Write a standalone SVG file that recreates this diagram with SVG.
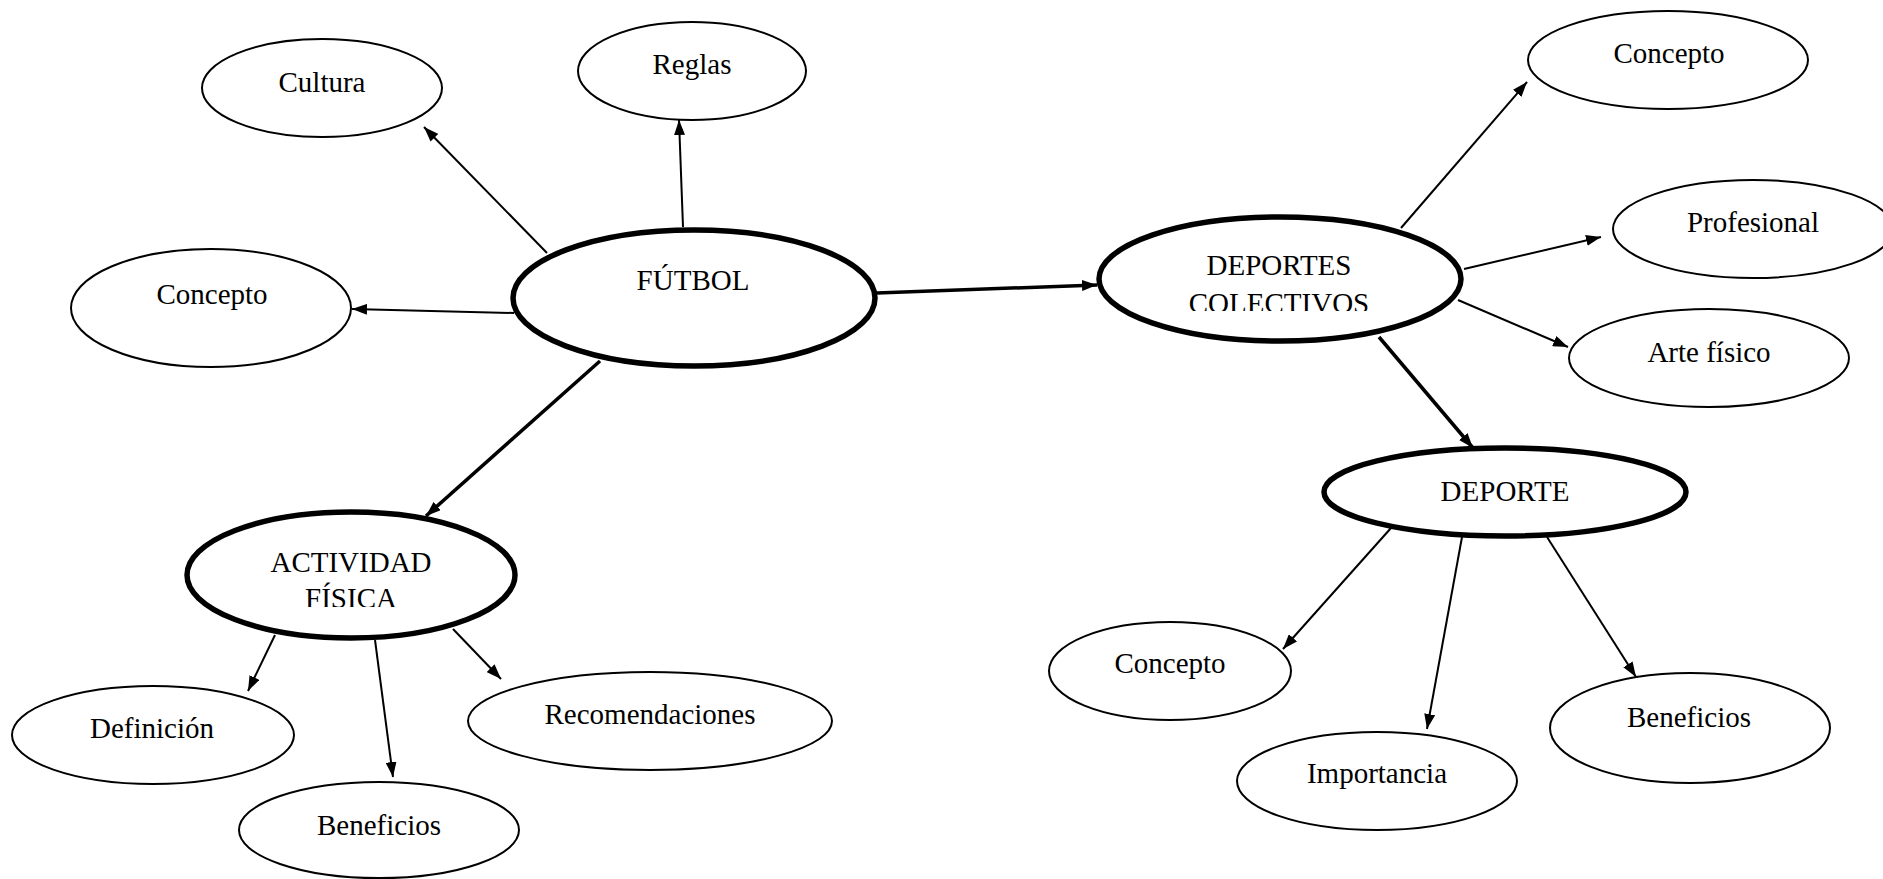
<svg xmlns="http://www.w3.org/2000/svg" width="1883" height="879" viewBox="0 0 1883 879">
<style>
.n{fill:#fff;stroke:#000;stroke-width:2}
.k{fill:#fff;stroke:#000;stroke-width:5.5}
.t{font-family:"Liberation Serif","Times New Roman",serif;font-size:29px;text-anchor:middle;fill:#000}
.c{stroke:#000;stroke-width:2;fill:none;marker-end:url(#ah)}
.ck{stroke:#000;stroke-width:3.5;fill:none;marker-end:url(#ah)}
</style>
<defs>
<marker id="ah" markerUnits="userSpaceOnUse" markerWidth="15" markerHeight="11" refX="15" refY="5.5" orient="auto">
<path d="M0,0 L15,5.5 L0,11 z" fill="#000"/>
</marker>
<clipPath id="clipDC"><rect x="1100" y="220" width="360" height="91"/></clipPath>
<clipPath id="clipAF"><rect x="190" y="515" width="325" height="92"/></clipPath>
</defs>
<rect width="1883" height="879" fill="#fff"/>
<g id="connectors">
<line class="c" x1="547" y1="253" x2="424" y2="127"/>
<line class="c" x1="683" y1="227" x2="679" y2="120"/>
<line class="c" x1="514" y1="313" x2="352" y2="309"/>
<line class="ck" x1="877" y1="293" x2="1097" y2="285"/>
<line class="ck" x1="600" y1="361" x2="426" y2="516"/>
<line class="c" x1="1401" y1="228" x2="1527" y2="82"/>
<line class="c" x1="1464" y1="269" x2="1601" y2="237"/>
<line class="c" x1="1458" y1="300" x2="1568" y2="347"/>
<line class="ck" x1="1379" y1="337" x2="1473" y2="448"/>
<line class="c" x1="1391" y1="528" x2="1283" y2="649"/>
<line class="c" x1="1462" y1="537" x2="1427" y2="729"/>
<line class="c" x1="1547" y1="537" x2="1636" y2="677"/>
<line class="c" x1="275" y1="635" x2="248" y2="691"/>
<line class="c" x1="375" y1="640" x2="393" y2="777"/>
<line class="c" x1="453" y1="629" x2="501" y2="679"/>
</g>
<g id="cultura"><ellipse class="n" cx="322" cy="88" rx="120" ry="49"/><text class="t" x="322" y="92">Cultura</text></g>
<g id="reglas"><ellipse class="n" cx="692" cy="71" rx="114" ry="49"/><text class="t" x="692" y="74">Reglas</text></g>
<g id="futbol"><ellipse class="k" cx="694" cy="298" rx="181" ry="68"/><text class="t" x="693" y="290">FÚTBOL</text></g>
<g id="concepto1"><ellipse class="n" cx="211" cy="308" rx="140" ry="59"/><text class="t" x="212" y="304">Concepto</text></g>
<g id="deportes-colectivos"><ellipse class="k" cx="1280" cy="279" rx="181" ry="62"/><g clip-path="url(#clipDC)"><text class="t" x="1279" y="275">DEPORTES</text><text class="t" x="1279" y="313">COLECTIVOS</text></g></g>
<g id="concepto2"><ellipse class="n" cx="1668" cy="60" rx="140" ry="49"/><text class="t" x="1669" y="63">Concepto</text></g>
<g id="profesional"><ellipse class="n" cx="1753" cy="229" rx="140" ry="49"/><text class="t" x="1753" y="232">Profesional</text></g>
<g id="arte-fisico"><ellipse class="n" cx="1709" cy="358" rx="140" ry="49"/><text class="t" x="1709" y="362">Arte físico</text></g>
<g id="deporte"><ellipse class="k" cx="1505" cy="492" rx="181" ry="44"/><text class="t" x="1505" y="501">DEPORTE</text></g>
<g id="concepto3"><ellipse class="n" cx="1170" cy="671" rx="121" ry="49"/><text class="t" x="1170" y="673">Concepto</text></g>
<g id="importancia"><ellipse class="n" cx="1377" cy="781" rx="140" ry="49"/><text class="t" x="1377" y="783">Importancia</text></g>
<g id="beneficios2"><ellipse class="n" cx="1690" cy="728" rx="140" ry="55"/><text class="t" x="1689" y="727">Beneficios</text></g>
<g id="actividad-fisica"><ellipse class="k" cx="351" cy="575" rx="164" ry="63"/><g clip-path="url(#clipAF)"><text class="t" x="351" y="572">ACTIVIDAD</text><text class="t" x="351" y="608">FÍSICA</text></g></g>
<g id="definicion"><ellipse class="n" cx="153" cy="735" rx="141" ry="49"/><text class="t" x="152" y="738">Definición</text></g>
<g id="beneficios1"><ellipse class="n" cx="379" cy="830" rx="140" ry="48"/><text class="t" x="379" y="835">Beneficios</text></g>
<g id="recomendaciones"><ellipse class="n" cx="650" cy="721" rx="182" ry="49"/><text class="t" x="650" y="724">Recomendaciones</text></g>
</svg>
